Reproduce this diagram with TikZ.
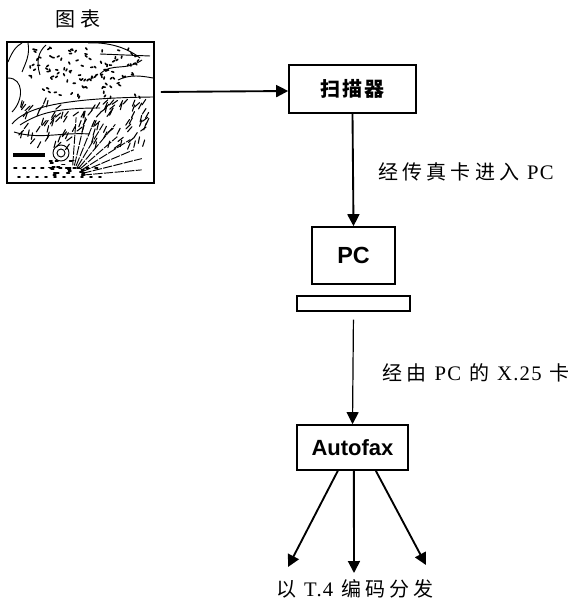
\documentclass[tikz,border=0pt]{standalone}
\usepackage{fontspec}
\setmainfont{Liberation Serif}
\setsansfont{Liberation Sans}
\newfontfamily\cjk[LetterSpace=21]{Noto Sans CJK SC}
\newfontfamily\cjktight[LetterSpace=12]{Noto Sans CJK SC}
\newfontfamily\latin[LetterSpace=6]{Liberation Serif}
\newcommand{\lat}[1]{\hspace{6pt}{\latin\fontsize{15.5}{16}\selectfont #1}\hspace{6pt}}
\usetikzlibrary{arrows.meta}
\tikzset{
  box/.style={draw, line width=1.2pt, inner sep=0pt},
  link/.style={-{Triangle[length=9pt, width=9pt]}, line width=1.4pt},
  zhlabel/.style={font=\cjk\fontsize{15}{16}\selectfont, inner sep=0pt},
  contour/.style={line width=0.7pt},
  speck/.style={line width=1.2pt, line cap=round}
}
\begin{document}
\begin{tikzpicture}[x=0.75pt, y=-0.75pt]
  \useasboundingbox (0,0) rectangle (578,602);

  % chart
  \node[zhlabel] (charttitle) at (78,19) {图表};
  \node[box, minimum width=110.25pt, minimum height=105.75pt] (chart) at (80.5,112.5) {};

  % contours on the chart
  \draw[contour] (8,62) .. controls (12,52) and (16,46) .. (22,43);
  \draw[contour] (28,43) .. controls (30,55) and (26,62) .. (22,72);
  \draw[contour] (46,45) .. controls (38,52) and (36,62) .. (40,75);
  \draw[contour] (88,43) .. controls (105,42) and (125,46) .. (140,58);
  \draw[contour] (100,54) -- (150,56);
  \draw[contour] (100,74) .. controls (112,62) and (125,72) .. (142,60);
  \draw[contour] (8,78) .. controls (24,78) and (24,100) .. (12,112);
  \draw[contour] (118,80) .. controls (130,74) and (142,76) .. (153,78);
  \draw[contour] (12,124) .. controls (25,108) and (60,98) .. (153,97);
  \draw[contour] (14,132) .. controls (40,140) and (60,132) .. (90,134);
  \draw[contour] (20,125) .. controls (40,112) and (60,108) .. (100,108);
  \draw[contour] (61,153) circle (6pt);
  \draw[contour] (61,153) circle (3pt);

  % pressure marks, upper part
  \pgfmathsetseed{41}
  \foreach \i in {1,...,110} {
    \pgfmathsetmacro{\px}{30+rnd*112}
    \pgfmathsetmacro{\py}{48+rnd*52}
    \pgfmathsetmacro{\pa}{rnd*180}
    \draw[speck] (\px,\py) -- ++(\pa:1.6pt);
  }
  % slanted strokes, middle band
  \foreach \i in {1,...,110} {
    \pgfmathsetmacro{\px}{18+rnd*128}
    \pgfmathsetmacro{\py}{104+rnd*46}
    \pgfmathsetmacro{\pa}{35+rnd*45}
    \draw[speck, line width=0.8pt] (\px,\py) -- ++(\pa:5pt);
  }
  % fan of isobars round the low
  \foreach \a in {5,14,...,86} {
    \pgfmathsetmacro{\pl}{40-0.1*\a+rnd*8}
    \draw[contour, dashed, dash pattern=on 7pt off 1pt] (72,176) ++(\a:8pt) -- ++(\a:\pl pt);
  }
  % low, lower left
  \draw[line width=2.5pt] (13,155) -- (45,155);
  \foreach \x in {14,23,...,95} {
    \draw[speck] (\x,168) -- ++(2pt,0);
    \draw[speck] (\x+4,177) -- ++(1.5pt,0);
  }
  \foreach \i in {1,...,22} {
    \pgfmathsetmacro{\px}{48+rnd*34}
    \pgfmathsetmacro{\py}{160+rnd*15}
    \draw[speck] (\px,\py) -- ++(2pt,0);
  }

  % scanner, PC, Autofax
  \node[box, minimum width=95.25pt, minimum height=36pt, font=\cjktight\bfseries\fontsize{15}{16}\selectfont] (scanner) at (352.5,89) {扫描器};
  \node[box, minimum width=62.25pt, minimum height=42.75pt, font=\sffamily\bfseries\fontsize{17.5}{18}\selectfont] (pc) at (353.5,255.5) {PC};
  \node[box, line width=0.9pt, minimum width=84.75pt, minimum height=11.25pt] (base) at (353.5,303.5) {};
  \node[box, minimum width=83.25pt, minimum height=33.75pt, font=\sffamily\bfseries\fontsize{16.5}{18}\selectfont] (autofax) at (352.5,447.5) {Autofax};

  % mapping arrows
  \draw[link, shorten <=4.5pt] (chart.east |- 0,92) -- ([yshift=-1.5pt]scanner.west);
  \draw[link] (scanner.south) -- (pc.north);
  \draw[link, line width=0.9pt, shorten <=6pt] (base.south) -- (autofax.north);

  % fan out below Autofax
  \coordinate (outl) at (288,567);
  \coordinate (outm) at (354,573);
  \coordinate (outr) at (426,565);
  \draw[link] ([xshift=-11pt]autofax.south) -- (outl);
  \draw[link] ([xshift=1pt]autofax.south) -- (outm);
  \draw[link] ([xshift=17.5pt]autofax.south) -- (outr);

  % labels
  \node[zhlabel] (faxlabel) at (470,172) {经传真卡进入\lat{PC}\hspace{-6pt}};
  \node[zhlabel] (x25label) at (476,373) {经由\lat{PC}的\lat{X.25}卡};
  \node[zhlabel] (t4label) at (355,589) {以\lat{T.4}编码分发};
\end{tikzpicture}
\end{document}
